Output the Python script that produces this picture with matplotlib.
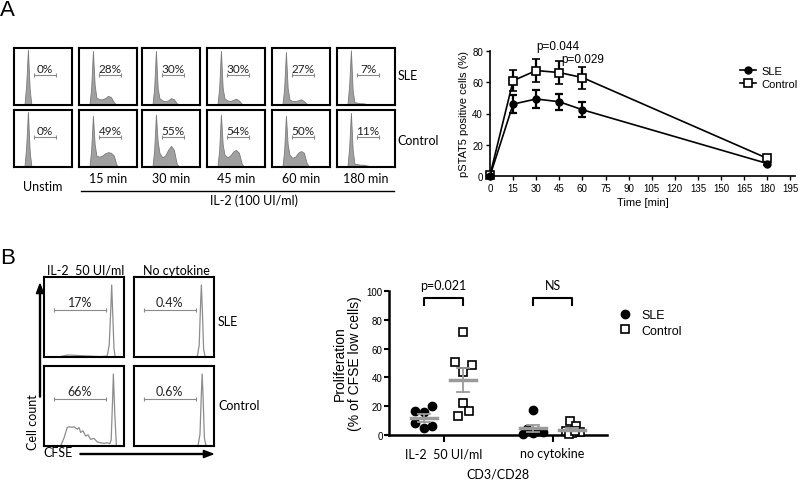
import matplotlib
matplotlib.use('Agg')
import matplotlib.pyplot as plt
from matplotlib.lines import Line2D
import numpy as np

W, H = 800, 481
CAL = ['Lato', 'DejaVu Sans']          # stand-in for Calibri
ARL = ['Liberation Sans', 'DejaVu Sans']
plt.rcParams['font.family'] = ARL

# ---------------- panel A : pSTAT5 histograms ----------------
timepoints = ['Unstim', '15 min', '30 min', '45 min', '60 min', '180 min']
sle_pct = ['0%', '28%', '30%', '30%', '27%', '7%']
ctrl_pct = ['0%', '49%', '55%', '54%', '50%', '11%']
hist_x = [0.18, 0.21, 0.24, 0.27, 0.30, 0.35, 0.40, 0.45, 0.50, 0.55, 0.60, 0.65, 0.70]
sle_hist = [
    [0, 0.35, 0.97, 0.28, 0, 0, 0, 0, 0, 0, 0, 0, 0],
    [0, 0.30, 0.95, 0.35, 0.13, 0.10, 0.10, 0.12, 0.16, 0.14, 0.05, 0, 0],
    [0, 0.30, 0.95, 0.30, 0.12, 0.08, 0.07, 0.08, 0.12, 0.10, 0.03, 0, 0],
    [0, 0.30, 0.95, 0.30, 0.12, 0.08, 0.07, 0.09, 0.11, 0.08, 0.02, 0, 0],
    [0, 0.30, 0.93, 0.30, 0.10, 0.07, 0.07, 0.08, 0.10, 0.07, 0.02, 0, 0],
    [0, 0.35, 0.96, 0.25, 0.05, 0.04, 0.03, 0.03, 0.02, 0.01, 0, 0, 0],
]
ctrl_hist = [
    [0, 0.35, 0.97, 0.28, 0, 0, 0, 0, 0, 0, 0, 0, 0],
    [0, 0.30, 0.90, 0.40, 0.20, 0.18, 0.20, 0.24, 0.26, 0.25, 0.20, 0.03, 0],
    [0, 0.30, 0.92, 0.45, 0.25, 0.17, 0.20, 0.30, 0.37, 0.30, 0.05, 0, 0],
    [0, 0.30, 0.92, 0.40, 0.22, 0.17, 0.20, 0.27, 0.30, 0.25, 0.05, 0, 0],
    [0, 0.30, 0.90, 0.40, 0.22, 0.16, 0.18, 0.25, 0.28, 0.25, 0.06, 0, 0],
    [0, 0.35, 0.95, 0.30, 0.06, 0.05, 0.04, 0.04, 0.03, 0.02, 0, 0, 0],
]

# ---------------- panel A : time course ----------------
time_min = [0, 15, 30, 45, 60, 180]
sle_mean = [0, 46.0, 49.3, 47.5, 42.4, 8.0]
sle_sem = [0.8, 5.8, 5.7, 5.0, 4.8, 1.0]
ctrl_mean = [0.5, 61.0, 67.5, 66.2, 63.0, 11.3]
ctrl_sem = [0.8, 6.8, 7.2, 7.2, 7.0, 1.0]

# ---------------- panel B : CFSE histograms ----------------
cfse_titles = ['IL-2  50 UI/ml', 'No cytokine']
cfse_pct_sle = ['17%', '0.4%']
cfse_pct_ctrl = ['66%', '0.6%']
cfse_sle_il2_x = [0, 0.2, 0.3, 0.4, 0.5, 0.6, 0.7, 0.79, 0.815, 0.835, 0.846, 0.857, 0.875, 0.89, 1]
cfse_sle_il2_y = [0, 0.005, 0.025, 0.02, 0.015, 0.01, 0.005, 0.01, 0.15, 0.6, 0.9, 0.6, 0.1, 0, 0]
cfse_ctrl_il2_x = [0, 0.208, 0.25, 0.29, 0.31, 0.35, 0.375, 0.417, 0.438, 0.458, 0.487, 0.52, 0.55,
                   0.583, 0.625, 0.667, 0.708, 0.75, 0.79, 0.825, 0.84, 0.858, 0.867, 0.885, 0.905, 1]
cfse_ctrl_il2_y = [0, 0, 0.10, 0.23, 0.24, 0.235, 0.24, 0.21, 0.23, 0.17, 0.19, 0.125, 0.14,
                   0.083, 0.095, 0.05, 0.04, 0.033, 0.04, 0.03, 0.08, 0.6, 0.9, 0.4, 0, 0]
cfse_sle_none_x = [0, 0.79, 0.815, 0.83, 0.842, 0.854, 0.87, 0.89, 1]
cfse_sle_none_y = [0, 0, 0.15, 0.6, 0.9, 0.6, 0.1, 0, 0]
cfse_ctrl_none_x = [0, 0.80, 0.825, 0.84, 0.852, 0.864, 0.88, 0.90, 1]
cfse_ctrl_none_y = [0, 0, 0.15, 0.6, 0.9, 0.6, 0.1, 0, 0]

# ---------------- panel B : proliferation scatter ----------------
conditions = ['IL-2  50 UI/ml', 'no cytokine']
prolif_sle = [[16.7, 15.7, 19.9, 8.3, 4.6, 6.0],
              [17.4, 4.0, 2.5, 1.5, 0.8, 1.8]]
prolif_ctrl = [[71.7, 50.5, 48.6, 44.0, 22.2, 16.9, 13.0],
               [10.0, 6.5, 3.0, 2.0, 1.5, 1.0, 2.5]]
pvals = ['p=0.021', 'NS']


def px_axes(x, y, w, h):
    return fig.add_axes([x / W, 1 - (y + h) / H, w / W, h / H])


def ftext(x, y, s, **kw):
    fig.text(x / W, 1 - y / H, s, **kw)


def box(ax):
    ax.set_xlim(0, 1)
    ax.set_ylim(0, 1)
    ax.set_xticks([])
    ax.set_yticks([])
    for sp in ax.spines.values():
        sp.set_linewidth(1.5)


def gate(ax, x0, x1, y, label, ty, fs):
    ax.plot([x0, x1], [y, y], color='#8a8a8a', lw=0.8)
    ax.plot([x0, x1], [y, y], ls='none', marker='|', ms=3, color='#8a8a8a', mew=0.8)
    ax.text((x0 + x1) / 2, ty, label, ha='center', va='center', fontsize=fs, family=CAL, color='#222222')


fig = plt.figure(figsize=(W / 100, H / 100), dpi=100)

# ---- A : histogram grid
col_x = [14, 79, 142, 207, 272, 337]
row_y = [49, 111]
for i in range(6):
    for r, (prof, lab) in enumerate([(sle_hist[i], sle_pct[i]), (ctrl_hist[i], ctrl_pct[i])]):
        ax = px_axes(col_x[i], row_y[r], 58, 57)
        box(ax)
        ax.fill_between(hist_x, prof, 0, color='#a0a0a0', lw=0.6, edgecolor='#7a7a7a')
        gate(ax, 0.35, 0.72, 0.52, lab, 0.64, 8.5)
    cx = col_x[i] + 29
    if i == 0:
        ftext(cx, 187, timepoints[i], ha='center', va='center', fontsize=9, family=CAL)
    else:
        ftext(cx, 179, timepoints[i], ha='center', va='center', fontsize=9, family=CAL)
ftext(398, 76, 'SLE', ha='left', va='center', fontsize=9, family=CAL)
ftext(397, 141, 'Control', ha='left', va='center', fontsize=9, family=CAL)
fig.add_artist(Line2D([81 / W, 394 / W], [1 - 192 / H, 1 - 192 / H], color='black', lw=1))
ftext(254, 201, 'IL-2 (100 UI/ml)', ha='center', va='center', fontsize=9, family=CAL)
ftext(7, 11, 'A', ha='center', va='center', fontsize=16)
ftext(8, 258, 'B', ha='center', va='center', fontsize=16)

# ---- A : time course
ax = px_axes(490, 52, 305, 125)
ax.errorbar(time_min, ctrl_mean, yerr=ctrl_sem, color='black', lw=1.2, marker='s', ms=5.5,
            mfc='white', mec='black', mew=1.2, capsize=3, elinewidth=1.6, capthick=1.6,
            clip_on=False, zorder=3)
ax.errorbar(time_min, sle_mean, yerr=sle_sem, color='black', lw=1.2, marker='o', ms=5,
            mfc='black', capsize=3, elinewidth=1.6, capthick=1.6, clip_on=False, zorder=4)
ax.set_xlim(0, 198)
ax.set_ylim(0, 80)
ax.set_xticks(range(0, 196, 15))
ax.set_yticks(range(0, 81, 20))
ax.tick_params(labelsize=7, length=3, width=1, pad=2)
for s in ['top', 'right']:
    ax.spines[s].set_visible(False)
for s in ['left', 'bottom']:
    ax.spines[s].set_linewidth(1.2)
ax.set_xlabel('Time [min]', fontsize=8, labelpad=3)
ax.set_ylabel('pSTAT5 positive cells (%)', fontsize=8, labelpad=2)
ax.text(30, 83, 'p=0.044', fontsize=8.5, ha='left', va='center', clip_on=False)
ax.text(60, 75, 'p=0.029', fontsize=8.5, ha='center', va='center', clip_on=False)
h_sle = Line2D([], [], color='black', lw=1.2, marker='o', ms=5)
h_ctrl = Line2D([], [], color='black', lw=1.2, marker='s', ms=5.5, mfc='white', mew=1.2)
ax.legend([h_sle, h_ctrl], ['SLE', 'Control'], loc='upper left', bbox_to_anchor=(740 / W, 1 - 67 / H),
          bbox_transform=fig.transFigure, frameon=False, fontsize=8, handlelength=1.4,
          handletextpad=0.5, labelspacing=0.25, borderaxespad=0, borderpad=0)

# ---- B : CFSE histograms
cfse_curves = [[(cfse_sle_il2_x, cfse_sle_il2_y), (cfse_sle_none_x, cfse_sle_none_y)],
               [(cfse_ctrl_il2_x, cfse_ctrl_il2_y), (cfse_ctrl_none_x, cfse_ctrl_none_y)]]
cfse_pcts = [cfse_pct_sle, cfse_pct_ctrl]
bx = [44, 134]
by = [278, 367]
for r in range(2):
    for c in range(2):
        ax = px_axes(bx[c], by[r], 80, 80)
        box(ax)
        xs, ys = cfse_curves[r][c]
        ax.plot(xs, ys, color='#8c8c8c', lw=0.9)
        gate(ax, 0.125, 0.77, 0.585, cfse_pcts[r][c], 0.69, 9)
for c in range(2):
    ftext(bx[c] + 42, 271, cfse_titles[c], ha='center', va='center', fontsize=9, family=CAL)
ftext(218, 322, 'SLE', ha='left', va='center', fontsize=9, family=CAL)
ftext(218, 406, 'Control', ha='left', va='center', fontsize=9, family=CAL)
ftext(33, 422, 'Cell count', ha='center', va='center', rotation=90, fontsize=9, family=CAL)
ftext(43, 453, 'CFSE', ha='left', va='center', fontsize=9, family=CAL)
fig.patches.append(matplotlib.patches.FancyArrow(40 / W, 1 - 398 / H, 0, 113 / H, width=0.0012,
                   head_width=0.009, head_length=0.02, length_includes_head=True,
                   color='black', transform=fig.transFigure))
fig.patches.append(matplotlib.patches.FancyArrow(80 / W, 1 - 455 / H, 133 / W, 0, width=0.002,
                   head_width=0.015, head_length=0.012, length_includes_head=True,
                   color='black', transform=fig.transFigure))

# ---- B : proliferation scatter
ax = px_axes(389, 292, 218, 144)
off = 0.18
swarm_sle = [[-0.08, 0, 0.075, -0.08, 0, 0.075], [0, -0.05, 0.05, 0, -0.09, 0.09]]
swarm_ctrl = [[0, -0.075, 0.085, 0, 0, 0.055, -0.045], [-0.02, 0.04, -0.06, 0.07, 0, -0.03, 0.03]]
for k in range(2):
    pos = k + 1
    for vals, sw, dx, mk in [(prolif_sle[k], swarm_sle[k], -off, 'o'),
                             (prolif_ctrl[k], swarm_ctrl[k], off, 's')]:
        vals = np.array(vals)
        xs = pos + dx + np.array(sw)
        if mk == 'o':
            ax.plot(xs, vals, ls='none', marker='o', ms=6, color='black', zorder=3, clip_on=False)
        else:
            ax.plot(xs, vals, ls='none', marker='s', ms=6, mfc='white', mec='black', mew=1.2,
                    zorder=3, clip_on=False)
        m = vals.mean()
        se = vals.std(ddof=1) / np.sqrt(len(vals))
        ax.plot([pos + dx - 0.12, pos + dx + 0.12], [m, m], color='#9a9a9a', lw=2.5, zorder=4)
        ax.plot([pos + dx, pos + dx], [m - se, m + se], color='#9a9a9a', lw=1.3, zorder=4)
        for yy in (m - se, m + se):
            ax.plot([pos + dx - 0.055, pos + dx + 0.055], [yy, yy], color='#9a9a9a', lw=1.3, zorder=4)
    # significance bracket
    ax.plot([pos - off, pos - off, pos + off, pos + off], [90, 95, 95, 90], color='black', lw=1.5,
            clip_on=False)
    ax.text(pos, 104, pvals[k], ha='center', va='center', fontsize=9, family=CAL, clip_on=False)
ax.set_xlim(0.5, 2.5)
ax.set_ylim(0, 100)
ax.set_xticks([1, 2])
ax.set_xticklabels(conditions, fontsize=9, family=CAL)
ax.set_yticks(range(0, 101, 20))
ax.tick_params(axis='y', labelsize=7, length=3.5, width=1.5, pad=1)
ax.tick_params(axis='x', length=5, width=1.5, pad=4)
for s in ['top', 'right']:
    ax.spines[s].set_visible(False)
for s in ['left', 'bottom']:
    ax.spines[s].set_linewidth(1.8)
ax.set_ylabel('Proliferation\n(% of CFSE low cells)', fontsize=10, labelpad=3, linespacing=1.1)
ax.text(1.5, -27, 'CD3/CD28', ha='center', va='center', fontsize=9, family=CAL, clip_on=False)
h1 = Line2D([], [], ls='none', marker='o', ms=6, color='black')
h2 = Line2D([], [], ls='none', marker='s', ms=6, mfc='white', mec='black', mew=1.2)
ax.legend([h1, h2], ['SLE', 'Control'], loc='upper left', bbox_to_anchor=(619 / W, 1 - 310 / H),
          bbox_transform=fig.transFigure, frameon=False, fontsize=9, handlelength=1,
          handletextpad=0.8, labelspacing=0.3, borderaxespad=0, borderpad=0)

fig.savefig('out.png', dpi=100)
